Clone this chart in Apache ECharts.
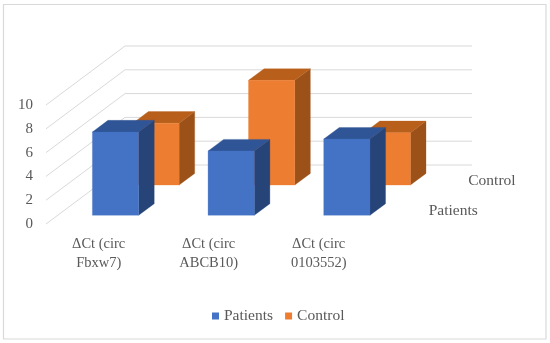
<!DOCTYPE html>
<html><head><meta charset="utf-8">
<style>html,body{margin:0;padding:0;background:#fff}#c{width:550px;height:343px}</style>
<script src="https://cdn.jsdelivr.net/npm/echarts@6/dist/echarts.min.js"></script>
</head><body><div id="c"></div>
<script>
const categories = ['ΔCt (circ\nFbxw7)', 'ΔCt (circ\nABCB10)', 'ΔCt (circ\n0103552)'];
const patients = [7.0, 5.4, 6.4];
const control = [5.2, 8.8, 4.4];
const ticks = [0, 2, 4, 6, 8, 10];
const depthLabels = ['Patients', 'Control'];

const FONT = '"Liberation Serif","Times New Roman",serif';
const TXT = '#595959';
// oblique projection of the depth axis (px per full depth)
const DX = 79, DY = -59;
const proj = (api, x, v, d) => { const p = api.coord([x, v]); return [p[0] + DX * d, p[1] + DY * d]; };
const BAR_W = 0.4, BAR_D = 0.197;

function barSeries(name, values, d0, front, top, side) {
  return {
    name, type: 'custom', coordinateSystem: 'cartesian2d', xAxisIndex: 0, yAxisIndex: 0,
    itemStyle: { color: front }, silent: true, animation: false, clip: false,
    data: values.map((v, i) => [i + 0.5, v]),
    encode: { x: 0, y: 1 },
    renderItem(params, api) {
      const x = api.value(0), v = api.value(1);
      const l = x - BAR_W / 2, r = x + BAR_W / 2, d1 = d0 + BAR_D;
      const poly = (pts, fill) => ({ type: 'polygon', shape: { points: pts }, style: { fill, stroke: fill, lineWidth: 0.3 } });
      return { type: 'group', children: [
        poly([proj(api, r, 0, d0), proj(api, r, 0, d1), proj(api, r, v, d1), proj(api, r, v, d0)], side),
        poly([proj(api, l, v, d0), proj(api, r, v, d0), proj(api, r, v, d1), proj(api, l, v, d1)], top),
        poly([proj(api, l, 0, d0), proj(api, r, 0, d0), proj(api, r, v, d0), proj(api, l, v, d0)], front)
      ]};
    }
  };
}

const option = {
  animation: false,
  backgroundColor: '#fff',
  textStyle: { fontFamily: FONT },
  graphic: [{ type: 'rect', silent: true, z: -1,
    shape: { x: 3.5, y: 4.5, width: 542.5, height: 334.5 },
    style: { fill: '#fff', stroke: '#d9d9d9', lineWidth: 1.2 } }],
  legend: {
    data: ['Patients', 'Control'], left: 207, top: 303, icon: 'rect',
    itemWidth: 7, itemHeight: 7, itemGap: 12,
    textStyle: { fontFamily: FONT, fontSize: 15.5, color: TXT }
  },
  grid: [
    { left: 46, top: 105, width: 347, height: 119 },
    { left: 43.7, top: 105, width: 330, height: 119 }
  ],
  xAxis: [
    { type: 'value', gridIndex: 0, min: 0, max: 3, show: false },
    { type: 'category', gridIndex: 1, data: categories,
      axisLine: { show: false }, axisTick: { show: false },
      axisLabel: { interval: 0, margin: 11, fontFamily: FONT, fontSize: 14.5, color: TXT, lineHeight: 19 } }
  ],
  yAxis: [
    { type: 'value', gridIndex: 0, min: 0, max: 10, interval: 2,
      axisLine: { show: false }, axisTick: { show: false }, splitLine: { show: false },
      axisLabel: { margin: 13, fontFamily: FONT, fontSize: 15, color: TXT } },
    { type: 'value', gridIndex: 1, min: 0, max: 10, show: false }
  ],
  series: [
    { type: 'custom', coordinateSystem: 'cartesian2d', xAxisIndex: 0, yAxisIndex: 0,
      silent: true, clip: false, z: 1,
      data: ticks.map(t => [0, t]), encode: { x: 0, y: 1 },
      renderItem(params, api) {
        const v = api.value(1);
        return { type: 'polyline',
          shape: { points: [proj(api, 0, v, 0), proj(api, 0, v, 1), proj(api, 3, v, 1)] },
          style: { fill: null, stroke: '#d9d9d9', lineWidth: 1 } };
      } },
    Object.assign(barSeries('Control', control, 0.66, '#ed7d31', '#b85f1c', '#9c5119'), { z: 2 }),
    Object.assign(barSeries('Patients', patients, 0.148, '#4472c4', '#2f5597', '#264478'), { z: 3 }),
    { type: 'custom', coordinateSystem: 'cartesian2d', xAxisIndex: 0, yAxisIndex: 0,
      silent: true, clip: false, z: 4,
      data: depthLabels.map((n, i) => [3, i]), encode: { x: 0 },
      renderItem(params, api) {
        const i = params.dataIndex;
        const p = proj(api, api.value(0), 0, 0.25 + 0.5 * i);
        return { type: 'text', x: p[0] + 16, y: p[1] + (i === 0 ? 2 : 1),
          style: { text: depthLabels[i], fontFamily: FONT, fontSize: 15.5, fill: TXT, align: 'left', verticalAlign: 'middle' } };
      } }
  ]
};
echarts.init(document.getElementById('c'), null, { renderer: 'canvas' }).setOption(option);
</script></body></html>
